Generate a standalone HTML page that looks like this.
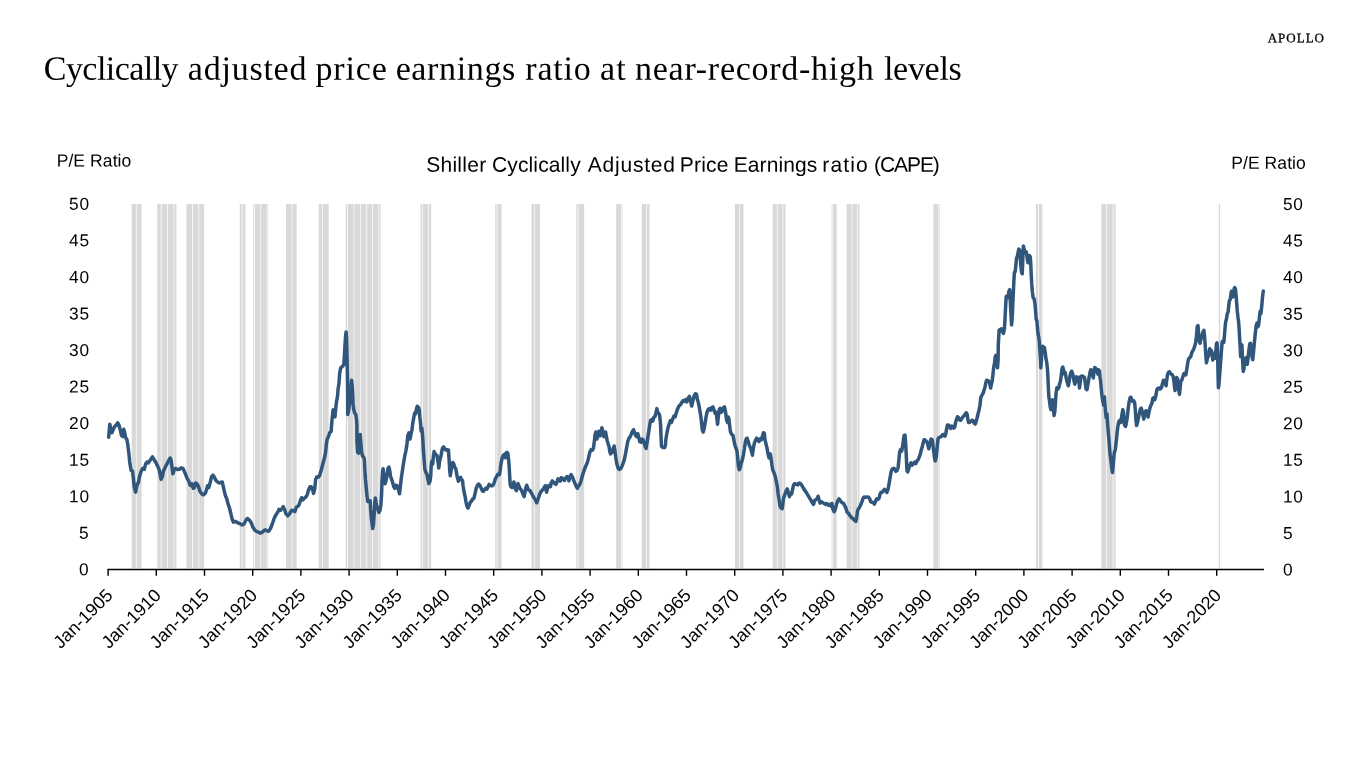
<!DOCTYPE html>
<html lang="en">
<head>
<meta charset="utf-8">
<title>Cyclically adjusted price earnings ratio at near-record-high levels</title>
<style>
html,body{margin:0;padding:0;background:#fff;}
body{width:1366px;height:768px;overflow:hidden;position:relative;font-family:"Liberation Sans",sans-serif;color:#000;}
svg{position:absolute;left:0;top:0;}
svg text{font-family:"Liberation Sans",sans-serif;fill:#000;}
.yl text{font-size:17.3px;}
text.ttl{font-family:"Liberation Serif",serif;font-size:34px;}
text.ct{font-size:21px;}
text.pe{font-size:17.5px;}
text.logo{font-family:"Liberation Serif",serif;font-size:13px;stroke:#000;stroke-width:0.3px;}
.xl text{font-size:18px;}
</style>
</head>
<body>
<svg width="1366" height="768" viewBox="0 0 1366 768">
<g fill="#d9d9d9">
<rect x="131.62" y="204" width="4.27" height="364.3"/>
<rect x="136.60" y="204" width="4.98" height="364.3"/>
<rect x="157.23" y="204" width="3.56" height="364.3"/>
<rect x="161.50" y="204" width="5.69" height="364.3"/>
<rect x="167.90" y="204" width="5.69" height="364.3"/>
<rect x="174.31" y="204" width="2.13" height="364.3"/>
<rect x="186.40" y="204" width="5.69" height="364.3"/>
<rect x="192.81" y="204" width="5.69" height="364.3"/>
<rect x="199.21" y="204" width="4.98" height="364.3"/>
<rect x="239.76" y="204" width="2.13" height="364.3"/>
<rect x="242.61" y="204" width="2.85" height="364.3"/>
<rect x="253.28" y="204" width="0.71" height="364.3"/>
<rect x="254.70" y="204" width="5.69" height="364.3"/>
<rect x="261.11" y="204" width="5.69" height="364.3"/>
<rect x="267.51" y="204" width="0.71" height="364.3"/>
<rect x="286.01" y="204" width="5.69" height="364.3"/>
<rect x="292.41" y="204" width="4.27" height="364.3"/>
<rect x="318.73" y="204" width="3.56" height="364.3"/>
<rect x="323.00" y="204" width="5.69" height="364.3"/>
<rect x="345.77" y="204" width="1.42" height="364.3"/>
<rect x="347.90" y="204" width="5.69" height="364.3"/>
<rect x="354.31" y="204" width="5.69" height="364.3"/>
<rect x="360.71" y="204" width="5.69" height="364.3"/>
<rect x="367.11" y="204" width="4.98" height="364.3"/>
<rect x="372.80" y="204" width="5.69" height="364.3"/>
<rect x="379.21" y="204" width="1.42" height="364.3"/>
<rect x="420.47" y="204" width="1.42" height="364.3"/>
<rect x="422.61" y="204" width="5.69" height="364.3"/>
<rect x="429.01" y="204" width="2.13" height="364.3"/>
<rect x="495.17" y="204" width="1.42" height="364.3"/>
<rect x="497.31" y="204" width="4.27" height="364.3"/>
<rect x="531.46" y="204" width="2.85" height="364.3"/>
<rect x="535.02" y="204" width="4.98" height="364.3"/>
<rect x="576.28" y="204" width="1.42" height="364.3"/>
<rect x="578.42" y="204" width="5.69" height="364.3"/>
<rect x="616.12" y="204" width="4.98" height="364.3"/>
<rect x="621.81" y="204" width="0.71" height="364.3"/>
<rect x="641.74" y="204" width="4.27" height="364.3"/>
<rect x="646.72" y="204" width="2.85" height="364.3"/>
<rect x="734.94" y="204" width="4.27" height="364.3"/>
<rect x="739.92" y="204" width="3.56" height="364.3"/>
<rect x="772.64" y="204" width="4.27" height="364.3"/>
<rect x="777.62" y="204" width="4.98" height="364.3"/>
<rect x="783.32" y="204" width="2.13" height="364.3"/>
<rect x="831.69" y="204" width="0.71" height="364.3"/>
<rect x="833.12" y="204" width="3.56" height="364.3"/>
<rect x="846.64" y="204" width="4.98" height="364.3"/>
<rect x="852.33" y="204" width="4.98" height="364.3"/>
<rect x="858.02" y="204" width="1.42" height="364.3"/>
<rect x="933.43" y="204" width="4.98" height="364.3"/>
<rect x="939.12" y="204" width="0.71" height="364.3"/>
<rect x="1035.88" y="204" width="2.13" height="364.3"/>
<rect x="1038.73" y="204" width="3.56" height="364.3"/>
<rect x="1101.34" y="204" width="4.98" height="364.3"/>
<rect x="1107.03" y="204" width="5.69" height="364.3"/>
<rect x="1113.43" y="204" width="2.13" height="364.3"/>
<rect x="1218.73" y="204" width="1.42" height="364.3"/>
</g>
<text class="ttl" y="79.80" rotate="0.05"><tspan x="43.74" style="letter-spacing:-0.55px">Cyclically</tspan> <tspan x="187.87" style="letter-spacing:0.75px">adjusted</tspan> <tspan x="315.45" style="letter-spacing:0.86px">price</tspan> <tspan x="395.63" style="letter-spacing:0.64px">earnings</tspan> <tspan x="525.27" style="letter-spacing:0.78px">ratio</tspan> <tspan x="599.91" style="letter-spacing:1.12px">at</tspan> <tspan x="635.05" style="letter-spacing:0.72px">near-record-high</tspan> <tspan x="883.97" style="letter-spacing:-0.31px">levels</tspan></text>
<text class="ct" y="171.70" rotate="0.05"><tspan x="426.19" style="letter-spacing:0.26px">Shiller</tspan> <tspan x="492.06" style="letter-spacing:0.11px">Cyclically</tspan> <tspan x="587.76" style="letter-spacing:0.78px">Adjusted</tspan> <tspan x="679.84" style="letter-spacing:0.18px">Price</tspan> <tspan x="733.66" style="letter-spacing:0.11px">Earnings</tspan> <tspan x="822.34" style="letter-spacing:1.11px">ratio</tspan> <tspan x="874.09" style="letter-spacing:-1.09px">(CAPE)</tspan></text>
<text class="pe" y="166.60" rotate="0.05"><tspan x="56.63" style="letter-spacing:0.09px">P/E Ratio</tspan></text>
<text class="pe" y="168.80" rotate="0.05"><tspan x="1231.24" style="letter-spacing:0.07px">P/E Ratio</tspan></text>
<text class="logo" y="42.30" rotate="0.05"><tspan x="1267.63" style="letter-spacing:1.01px">APOLLO</tspan></text>
<g class="yl">
<text x="88.70" y="575.30" rotate="0.05" text-anchor="end" style="letter-spacing:0.0px">0</text>
<text x="1283.1" y="575.50" rotate="0.05" text-anchor="start" style="letter-spacing:0.5px">0</text>
<text x="88.70" y="538.75" rotate="0.05" text-anchor="end" style="letter-spacing:0.0px">5</text>
<text x="1283.1" y="538.95" rotate="0.05" text-anchor="start" style="letter-spacing:0.5px">5</text>
<text x="90.00" y="502.20" rotate="0.05" text-anchor="end" style="letter-spacing:0.9px">10</text>
<text x="1283.1" y="502.40" rotate="0.05" text-anchor="start" style="letter-spacing:0.5px">10</text>
<text x="90.00" y="465.65" rotate="0.05" text-anchor="end" style="letter-spacing:0.9px">15</text>
<text x="1283.1" y="465.85" rotate="0.05" text-anchor="start" style="letter-spacing:0.5px">15</text>
<text x="90.00" y="429.10" rotate="0.05" text-anchor="end" style="letter-spacing:0.9px">20</text>
<text x="1283.1" y="429.30" rotate="0.05" text-anchor="start" style="letter-spacing:0.5px">20</text>
<text x="90.00" y="392.55" rotate="0.05" text-anchor="end" style="letter-spacing:0.9px">25</text>
<text x="1283.1" y="392.75" rotate="0.05" text-anchor="start" style="letter-spacing:0.5px">25</text>
<text x="90.00" y="356.00" rotate="0.05" text-anchor="end" style="letter-spacing:0.9px">30</text>
<text x="1283.1" y="356.20" rotate="0.05" text-anchor="start" style="letter-spacing:0.5px">30</text>
<text x="90.00" y="319.45" rotate="0.05" text-anchor="end" style="letter-spacing:0.9px">35</text>
<text x="1283.1" y="319.65" rotate="0.05" text-anchor="start" style="letter-spacing:0.5px">35</text>
<text x="90.00" y="282.90" rotate="0.05" text-anchor="end" style="letter-spacing:0.9px">40</text>
<text x="1283.1" y="283.10" rotate="0.05" text-anchor="start" style="letter-spacing:0.5px">40</text>
<text x="90.00" y="246.35" rotate="0.05" text-anchor="end" style="letter-spacing:0.9px">45</text>
<text x="1283.1" y="246.55" rotate="0.05" text-anchor="start" style="letter-spacing:0.5px">45</text>
<text x="90.00" y="209.80" rotate="0.05" text-anchor="end" style="letter-spacing:0.9px">50</text>
<text x="1283.1" y="210.00" rotate="0.05" text-anchor="start" style="letter-spacing:0.5px">50</text>
</g>
<path d="M108.7 437.2 L109.3 430.0 L109.8 424.2 L110.9 429.2 L111.9 432.8 L113.1 430.1 L114.6 426.4 L116.0 425.5 L117.7 422.8 L118.8 424.6 L120.1 429.2 L121.5 435.6 L122.8 436.5 L123.7 429.2 L124.6 431.9 L125.5 437.4 L126.8 439.2 L127.7 443.8 L128.8 452.9 L129.7 462.0 L131.0 470.2 L132.5 471.1 L133.4 478.4 L134.3 487.5 L135.6 492.1 L136.5 487.5 L137.4 483.9 L138.3 483.0 L139.7 475.7 L141.6 470.2 L142.8 468.4 L144.3 469.3 L145.6 463.8 L147.0 462.0 L148.3 462.9 L150.1 460.2 L152.5 456.9 L153.8 459.3 L155.6 462.0 L157.4 465.6 L159.3 470.2 L160.2 474.7 L161.1 479.3 L162.4 476.6 L163.4 471.1 L164.7 468.4 L166.0 465.6 L167.5 462.9 L168.9 460.2 L170.2 458.0 L171.1 460.2 L172.0 467.5 L172.9 473.8 L174.4 469.3 L175.7 468.4 L177.5 469.6 L179.3 469.3 L181.1 467.8 L183.0 468.4 L184.2 471.1 L185.7 474.7 L187.1 478.4 L188.8 481.1 L189.9 484.8 L191.2 485.7 L192.1 483.9 L193.3 488.4 L194.4 487.5 L195.7 483.0 L197.0 483.9 L198.5 486.6 L199.9 491.2 L201.7 493.9 L203.6 494.8 L205.4 493.0 L206.7 489.3 L207.6 485.7 L208.8 487.5 L210.3 482.0 L211.6 476.6 L213.0 475.1 L214.5 477.5 L215.8 480.2 L217.6 482.0 L219.4 483.0 L220.7 482.4 L222.2 482.0 L223.1 485.7 L224.3 491.2 L225.4 495.7 L226.7 498.5 L228.0 503.9 L229.4 507.6 L230.9 513.9 L232.2 519.4 L233.5 522.2 L234.9 521.2 L236.7 522.2 L238.6 523.1 L240.4 524.0 L242.2 524.9 L244.0 524.0 L245.9 520.3 L247.3 518.5 L248.6 519.4 L250.4 521.2 L251.7 524.0 L253.1 527.6 L255.0 530.4 L256.8 531.6 L258.6 532.2 L260.4 533.1 L262.3 532.2 L264.1 530.4 L265.5 529.8 L266.8 530.9 L268.6 531.3 L270.5 528.5 L272.3 524.0 L274.1 518.5 L275.9 514.9 L277.8 512.1 L279.0 509.4 L280.5 510.3 L282.0 508.5 L283.2 506.7 L284.5 509.4 L286.0 513.9 L287.8 515.8 L289.6 513.9 L290.2 512.5 L291.7 510.2 L293.3 510.6 L294.8 511.7 L296.4 507.0 L298.0 506.2 L299.1 504.7 L300.3 500.8 L301.6 497.7 L302.7 500.0 L304.2 498.4 L305.8 497.2 L307.3 494.5 L308.6 489.8 L310.0 486.7 L311.2 486.7 L312.5 489.8 L313.6 493.4 L314.7 489.1 L315.6 479.7 L316.7 476.9 L318.3 477.3 L319.8 475.0 L321.4 469.5 L323.0 463.3 L324.5 457.8 L325.6 452.3 L326.4 443.8 L327.2 439.1 L328.4 436.7 L329.7 432.8 L331.2 431.2 L331.6 424.7 L332.3 416.9 L333.1 409.8 L334.2 413.8 L335.0 416.9 L335.8 407.5 L336.6 401.2 L337.5 396.6 L338.1 388.8 L338.9 384.1 L339.7 373.1 L340.6 368.4 L341.7 366.9 L342.8 366.1 L343.8 364.5 L344.4 355.9 L345.0 345.0 L345.6 335.9 L346.1 332.0 L346.6 338.8 L346.9 351.2 L347.2 365.3 L347.5 379.4 L347.7 395.0 L347.7 407.5 L347.7 414.5 L348.3 412.2 L349.1 407.5 L350.0 398.1 L350.8 388.8 L351.6 380.2 L352.2 385.6 L352.7 395.0 L353.1 404.4 L353.8 409.8 L354.7 413.0 L355.8 414.5 L356.6 420.0 L356.9 426.2 L356.9 432.8 L357.0 442.2 L357.7 452.3 L358.6 453.1 L359.4 443.8 L360.2 434.4 L360.8 442.2 L361.6 451.6 L362.5 456.2 L363.6 457.0 L364.4 459.4 L364.8 468.8 L365.5 479.7 L366.2 487.5 L367.0 495.3 L367.8 501.6 L369.1 501.6 L370.2 500.8 L370.6 509.4 L371.4 518.8 L372.2 525.0 L372.7 528.4 L373.4 525.0 L374.1 515.6 L374.7 503.1 L375.3 498.1 L376.2 503.1 L377.2 507.8 L378.1 510.2 L378.9 512.5 L380.0 510.2 L380.9 504.7 L381.6 493.8 L382.0 481.2 L382.7 471.1 L383.1 468.8 L383.8 475.0 L384.4 481.2 L385.2 483.6 L386.2 479.7 L387.2 473.4 L388.1 468.0 L388.9 467.2 L389.7 470.3 L390.5 476.6 L391.2 478.1 L392.5 482.0 L393.8 486.7 L394.8 488.3 L395.9 485.2 L397.2 485.9 L398.3 489.1 L399.5 493.8 L400.3 487.5 L401.1 479.7 L402.2 471.9 L403.4 464.1 L404.7 456.2 L405.9 450.8 L407.0 443.8 L407.8 435.9 L408.9 432.8 L410.0 439.1 L410.9 434.4 L412.0 429.7 L412.8 423.1 L413.9 416.9 L414.7 413.0 L415.6 413.8 L416.4 409.1 L417.2 406.2 L418.3 407.2 L419.1 409.1 L419.8 416.9 L420.6 423.9 L421.1 431.2 L421.9 428.1 L422.5 434.4 L423.0 442.2 L423.4 450.0 L424.1 459.4 L424.8 468.8 L425.6 471.9 L426.9 474.2 L428.0 479.7 L428.9 483.6 L430.0 481.2 L430.8 475.0 L431.2 465.6 L431.9 460.9 L432.7 464.1 L433.4 456.2 L434.1 451.6 L434.7 453.1 L435.8 454.7 L437.0 455.5 L438.1 462.5 L438.8 468.0 L439.4 462.5 L440.2 458.6 L440.9 456.2 L441.7 451.6 L442.5 448.1 L443.6 446.9 L444.8 448.8 L445.9 450.0 L447.2 449.7 L448.4 450.0 L449.1 459.4 L449.7 470.3 L450.3 475.8 L451.1 470.3 L451.9 465.6 L452.8 462.5 L453.8 464.1 L454.7 467.2 L455.8 468.8 L456.6 473.4 L457.3 477.3 L458.4 481.2 L459.4 478.1 L460.5 477.3 L461.6 479.7 L462.5 480.5 L463.1 485.9 L464.1 492.2 L465.2 496.9 L465.9 501.6 L466.9 506.2 L468.0 508.1 L469.1 505.5 L470.3 502.3 L471.9 500.8 L472.3 499.2 L473.9 498.4 L475.0 493.8 L476.2 488.3 L477.5 485.2 L478.6 484.1 L479.7 485.2 L480.9 487.5 L482.2 490.6 L483.3 491.4 L484.4 489.8 L485.6 488.3 L486.9 489.1 L488.0 486.7 L489.1 484.4 L490.3 485.6 L491.6 485.9 L493.0 485.2 L494.2 482.8 L495.3 478.9 L496.6 476.6 L497.8 474.2 L499.4 474.7 L500.2 470.3 L500.9 464.1 L502.0 458.6 L503.1 455.5 L504.4 454.4 L505.3 457.8 L505.9 453.1 L507.0 452.3 L508.0 453.9 L508.6 459.4 L509.2 467.2 L509.7 476.6 L510.2 484.4 L510.9 486.7 L512.2 487.5 L513.1 484.4 L513.9 482.0 L514.7 485.2 L515.6 489.1 L516.4 490.6 L517.2 487.5 L518.0 483.6 L518.9 485.9 L520.0 488.3 L521.2 489.8 L522.3 492.2 L523.1 494.5 L524.1 496.6 L525.0 492.2 L525.9 487.5 L526.7 485.2 L527.5 487.5 L528.4 489.8 L529.7 490.3 L530.9 492.2 L532.2 494.5 L533.4 496.9 L534.7 498.8 L535.6 500.0 L536.7 502.8 L537.7 500.0 L538.8 496.9 L539.8 493.8 L541.1 491.4 L542.2 490.3 L543.4 489.1 L544.5 486.7 L545.5 485.6 L546.6 492.2 L547.3 489.1 L548.4 485.9 L549.4 485.2 L550.5 486.7 L551.2 482.8 L552.3 480.9 L553.6 482.5 L554.7 483.6 L555.9 484.4 L557.0 482.0 L558.0 478.9 L559.1 479.7 L560.2 481.2 L561.2 477.8 L562.2 478.1 L563.4 479.4 L564.5 480.5 L565.6 478.1 L566.9 476.6 L568.1 477.3 L568.9 480.9 L570.0 476.6 L571.1 474.7 L572.3 476.6 L573.4 479.7 L574.7 482.8 L575.9 485.6 L577.3 488.3 L578.6 485.9 L579.8 484.4 L580.9 481.2 L582.0 477.3 L583.1 473.4 L584.4 469.5 L585.6 466.4 L586.9 463.8 L588.0 460.2 L589.1 455.5 L590.0 451.6 L591.1 449.7 L592.2 450.3 L593.4 448.4 L594.4 440.6 L595.0 435.2 L595.9 432.0 L596.9 439.1 L597.8 433.6 L598.9 431.2 L600.0 435.9 L600.9 432.8 L601.9 427.8 L602.8 431.2 L603.8 436.7 L604.7 432.8 L605.6 432.0 L606.4 436.7 L607.2 440.6 L608.1 443.8 L609.1 446.9 L609.8 451.6 L610.6 453.9 L611.7 450.0 L612.5 452.3 L613.4 447.7 L614.2 446.1 L615.0 451.6 L615.9 458.6 L616.9 464.1 L618.0 468.0 L619.2 469.5 L620.5 468.8 L621.9 466.4 L623.1 463.3 L624.4 459.4 L625.5 453.9 L626.6 447.7 L627.8 441.4 L628.9 438.3 L630.2 436.7 L631.2 434.4 L632.5 431.2 L633.6 429.7 L634.5 432.8 L635.6 435.2 L636.7 436.7 L637.8 433.6 L638.8 437.5 L639.8 441.9 L641.1 442.2 L642.2 439.1 L643.1 439.8 L644.2 443.0 L645.3 446.9 L646.1 448.4 L646.9 443.8 L647.8 437.5 L648.8 431.2 L649.7 425.0 L650.6 420.3 L651.7 419.5 L652.8 421.1 L653.9 417.2 L655.0 416.4 L655.9 413.3 L656.9 408.6 L657.8 412.5 L658.8 413.3 L659.7 415.6 L660.6 425.0 L661.0 436.0 L661.5 446.3 L662.8 447.6 L664.6 447.6 L665.5 445.0 L665.8 439.7 L666.9 433.3 L668.0 427.8 L669.1 424.2 L670.4 420.6 L671.5 422.4 L672.8 418.7 L674.0 416.0 L675.1 416.9 L676.4 412.3 L677.7 408.7 L679.0 406.0 L680.4 404.7 L681.9 402.3 L683.2 400.5 L684.4 401.4 L685.7 399.6 L687.0 401.8 L688.3 397.8 L689.5 396.3 L690.6 401.4 L691.7 406.0 L692.8 401.4 L694.1 395.9 L695.4 393.8 L696.5 394.1 L697.4 399.6 L698.3 402.3 L699.2 406.9 L700.1 412.3 L700.8 416.0 L701.6 423.3 L702.3 429.7 L703.2 432.0 L704.3 427.8 L705.2 422.4 L706.1 416.9 L707.0 412.3 L708.1 409.6 L709.2 408.7 L710.5 410.2 L711.6 407.8 L712.9 406.9 L714.1 410.5 L715.2 413.3 L716.2 412.3 L716.9 418.7 L717.6 424.2 L718.3 416.9 L719.3 409.6 L720.2 408.3 L721.3 412.3 L722.4 410.5 L723.4 407.8 L724.5 406.9 L725.6 412.3 L726.5 419.6 L727.5 422.4 L728.2 416.9 L728.9 418.7 L729.6 425.1 L730.4 431.5 L731.5 434.2 L732.9 435.1 L733.8 439.7 L734.7 444.3 L735.8 447.9 L736.9 450.6 L737.7 457.9 L738.4 466.1 L739.3 469.8 L740.2 468.0 L741.1 463.4 L742.4 459.7 L743.5 454.3 L744.4 448.8 L745.3 442.4 L746.2 438.8 L747.1 438.2 L748.2 441.5 L749.3 445.2 L750.6 447.9 L751.5 451.5 L752.4 455.2 L753.3 448.8 L754.3 443.3 L755.4 440.6 L756.6 438.2 L757.9 439.7 L759.0 441.5 L760.3 438.8 L761.5 439.7 L762.5 436.0 L763.4 432.8 L764.3 433.3 L765.0 439.7 L766.1 444.3 L767.0 447.9 L767.9 453.4 L769.0 457.9 L770.3 453.9 L771.0 457.9 L771.8 464.3 L772.7 469.8 L773.9 472.5 L775.2 476.2 L776.3 481.6 L777.4 487.1 L778.1 493.5 L779.1 499.9 L780.0 506.2 L781.2 508.1 L782.2 508.6 L782.9 503.5 L783.6 498.0 L784.9 494.4 L786.2 490.7 L787.3 488.9 L788.4 492.6 L789.4 496.6 L790.5 493.5 L791.6 494.0 L792.7 488.9 L793.6 484.9 L794.9 483.5 L796.4 484.4 L797.8 484.9 L799.1 483.1 L800.4 483.5 L801.8 485.3 L803.3 488.0 L804.9 490.7 L806.4 492.6 L808.0 495.3 L809.5 498.0 L811.0 500.2 L812.2 502.6 L813.5 504.4 L814.6 500.8 L815.9 499.5 L817.2 498.9 L818.1 496.2 L819.0 499.5 L820.1 503.1 L821.3 501.7 L822.6 502.6 L824.1 503.5 L825.5 504.4 L826.8 503.5 L828.1 505.3 L829.6 504.4 L831.0 506.2 L831.9 503.5 L832.8 509.0 L834.1 511.7 L835.4 509.0 L836.5 504.4 L837.8 500.8 L839.0 498.9 L840.5 500.8 L842.0 502.6 L843.6 503.5 L845.9 508.1 L847.0 512.0 L848.6 513.6 L850.2 515.9 L851.7 517.8 L853.3 518.8 L854.8 520.6 L855.9 521.4 L856.7 517.5 L857.5 511.2 L858.4 508.9 L859.5 507.3 L860.6 505.0 L861.9 501.9 L863.1 498.4 L864.2 496.9 L865.8 497.2 L867.3 496.9 L868.6 497.2 L869.7 498.8 L870.8 501.9 L872.0 502.2 L873.3 502.7 L874.4 504.2 L875.6 501.1 L876.7 498.8 L878.0 499.5 L879.1 498.0 L880.0 494.1 L880.9 492.5 L882.2 492.2 L883.4 490.6 L884.5 489.4 L885.6 490.6 L886.9 492.5 L888.0 489.4 L888.9 484.7 L889.7 480.0 L890.5 475.3 L891.2 471.4 L892.3 469.1 L893.4 468.3 L894.7 468.8 L895.8 471.4 L897.0 470.6 L898.1 467.5 L898.9 459.7 L899.7 451.9 L900.6 449.5 L901.7 451.1 L902.5 447.2 L903.3 440.9 L904.1 435.5 L905.0 435.0 L905.6 442.5 L906.1 451.9 L906.6 462.8 L907.0 470.6 L907.7 471.9 L908.8 468.3 L909.8 465.2 L911.1 462.8 L912.2 465.2 L913.4 463.6 L914.7 462.0 L915.8 463.6 L916.9 460.9 L918.1 459.7 L919.2 457.3 L920.2 454.2 L921.2 450.3 L922.3 446.4 L923.3 442.5 L924.1 439.7 L925.2 440.2 L926.2 441.2 L927.2 442.2 L928.0 445.6 L928.8 448.8 L929.5 445.9 L930.3 441.7 L931.1 439.1 L932.2 439.7 L933.0 445.6 L933.8 451.9 L934.5 458.1 L935.3 460.9 L936.2 457.3 L936.9 450.3 L937.5 443.3 L938.1 438.6 L939.2 437.5 L940.3 437.0 L941.6 436.2 L942.8 434.4 L943.9 434.7 L945.0 436.2 L945.9 433.1 L946.7 428.4 L947.5 425.0 L948.6 425.3 L949.7 426.9 L950.6 428.4 L951.7 426.1 L952.8 426.6 L953.8 428.1 L954.8 426.9 L955.6 422.2 L956.6 419.1 L957.5 416.7 L958.4 417.5 L959.5 419.8 L960.6 420.3 L961.9 418.3 L963.1 416.7 L964.2 415.6 L965.3 414.1 L966.2 412.8 L967.2 414.4 L967.8 419.1 L968.6 422.5 L969.7 422.2 L970.9 421.4 L972.0 420.3 L973.1 420.6 L974.1 423.0 L975.2 424.1 L976.2 421.4 L977.2 417.5 L978.1 413.6 L979.1 409.7 L980.0 405.0 L980.8 397.5 L981.9 395.2 L983.0 393.6 L983.9 390.5 L985.0 387.3 L985.8 382.7 L986.6 380.3 L987.8 380.6 L988.9 381.1 L989.7 383.4 L990.6 388.1 L991.6 383.4 L992.3 380.3 L993.0 374.1 L993.6 367.8 L994.4 363.9 L995.2 356.9 L995.9 355.3 L996.7 361.6 L997.5 367.8 L998.1 360.0 L998.3 344.4 L999.1 330.3 L1000.3 329.5 L1001.4 328.8 L1002.5 331.9 L1003.4 333.4 L1004.4 328.8 L1005.0 319.4 L1005.6 306.9 L1006.2 296.7 L1007.2 295.9 L1008.1 297.5 L1008.9 291.2 L1009.7 289.7 L1010.3 300.6 L1010.9 313.1 L1011.6 324.8 L1012.3 316.2 L1012.8 303.8 L1013.4 291.2 L1013.9 280.3 L1014.4 272.5 L1015.2 271.7 L1015.9 264.7 L1016.6 257.7 L1017.3 256.9 L1018.1 252.2 L1018.9 249.1 L1019.7 250.6 L1020.3 258.4 L1020.9 266.2 L1021.6 272.5 L1022.2 273.8 L1022.7 263.1 L1023.0 252.2 L1023.4 245.9 L1024.1 249.1 L1024.8 253.0 L1025.6 251.4 L1026.4 252.2 L1027.2 258.4 L1028.0 262.8 L1028.8 256.9 L1029.5 255.6 L1030.3 256.9 L1030.8 264.7 L1031.2 274.1 L1031.7 283.4 L1032.3 291.2 L1033.1 297.5 L1034.2 299.1 L1035.0 303.8 L1035.6 311.6 L1036.2 319.4 L1036.9 320.6 L1037.5 328.8 L1038.1 334.2 L1038.9 338.1 L1039.4 342.8 L1040.0 352.2 L1040.5 360.0 L1040.8 367.8 L1041.4 360.0 L1042.0 350.6 L1042.8 346.2 L1043.8 350.6 L1044.4 347.5 L1045.2 352.2 L1045.9 358.4 L1046.7 362.3 L1047.5 369.4 L1048.0 378.8 L1048.4 388.1 L1048.9 397.5 L1049.5 400.6 L1050.2 406.9 L1050.9 409.7 L1051.7 400.6 L1052.5 399.8 L1053.3 408.4 L1054.1 415.5 L1054.8 411.6 L1055.5 402.2 L1056.1 392.8 L1056.9 387.8 L1058.0 388.9 L1058.9 387.3 L1059.7 383.4 L1060.5 381.1 L1061.2 375.6 L1062.0 368.6 L1062.8 367.0 L1063.6 370.2 L1064.4 374.1 L1065.2 372.5 L1065.9 376.4 L1066.7 380.3 L1067.5 383.4 L1068.3 385.8 L1069.1 381.9 L1069.8 377.2 L1070.6 373.3 L1071.6 371.2 L1072.5 373.3 L1073.3 376.4 L1074.1 381.1 L1074.8 384.2 L1075.6 380.3 L1076.4 376.9 L1077.2 378.8 L1078.0 381.9 L1078.8 377.2 L1079.5 388.1 L1080.3 381.9 L1081.1 376.4 L1082.2 375.9 L1083.4 376.9 L1084.5 377.2 L1085.3 383.4 L1086.1 388.9 L1087.0 389.7 L1087.8 385.0 L1088.6 380.3 L1089.4 375.6 L1090.2 371.7 L1090.9 369.7 L1091.7 370.9 L1092.5 374.1 L1093.3 378.0 L1094.1 370.9 L1094.8 367.5 L1095.9 368.6 L1096.9 369.7 L1097.8 374.1 L1098.4 369.7 L1099.4 370.9 L1100.0 377.2 L1100.6 381.1 L1101.2 388.1 L1101.9 395.2 L1102.7 400.6 L1103.8 405.3 L1104.4 396.7 L1105.0 405.3 L1105.6 413.1 L1106.2 417.8 L1107.0 413.9 L1107.5 422.5 L1108.1 430.3 L1108.8 438.1 L1109.4 445.9 L1110.0 453.8 L1110.6 458.4 L1111.2 463.1 L1111.9 469.4 L1112.5 472.5 L1113.1 466.2 L1113.8 456.9 L1114.4 452.2 L1115.3 449.8 L1115.9 444.4 L1116.6 438.1 L1117.2 431.9 L1118.0 425.6 L1118.8 421.7 L1120.0 420.2 L1120.9 422.5 L1121.9 414.7 L1122.8 409.7 L1123.4 411.6 L1123.9 419.4 L1124.5 424.8 L1125.5 426.4 L1126.2 424.1 L1126.9 419.4 L1127.7 413.1 L1128.4 406.9 L1129.2 401.4 L1130.2 397.5 L1130.9 397.2 L1131.9 400.6 L1132.8 401.4 L1133.8 400.9 L1134.7 403.0 L1135.3 410.0 L1135.9 419.4 L1136.6 425.6 L1137.5 422.5 L1138.4 417.8 L1139.4 413.1 L1140.3 409.2 L1141.2 408.1 L1142.2 411.6 L1143.0 415.5 L1143.8 419.1 L1144.5 414.7 L1145.5 411.2 L1146.4 410.8 L1147.3 413.9 L1148.1 417.0 L1149.1 411.6 L1150.0 407.7 L1150.9 405.3 L1151.9 403.4 L1152.8 398.3 L1153.8 397.5 L1154.7 399.8 L1155.5 397.5 L1156.2 393.6 L1156.9 389.7 L1157.8 388.4 L1158.8 388.9 L1159.7 387.8 L1160.6 388.9 L1161.6 387.3 L1162.5 383.4 L1163.4 380.3 L1164.4 380.6 L1165.3 382.7 L1166.1 385.8 L1166.7 380.3 L1167.5 374.8 L1168.4 372.2 L1169.4 371.7 L1170.3 373.3 L1171.2 374.1 L1172.2 374.8 L1173.1 376.4 L1173.8 380.3 L1174.4 385.8 L1175.0 390.5 L1175.8 383.4 L1176.6 377.5 L1177.5 378.4 L1178.1 386.6 L1178.9 391.2 L1179.5 394.4 L1180.2 387.3 L1180.8 381.1 L1181.7 380.3 L1182.8 377.2 L1183.8 373.8 L1184.7 373.3 L1185.9 374.8 L1186.7 369.4 L1187.5 364.7 L1188.3 359.7 L1189.4 357.8 L1190.6 356.9 L1191.6 353.4 L1192.5 351.1 L1193.4 350.0 L1194.4 347.2 L1195.3 344.1 L1196.1 339.4 L1196.7 333.1 L1197.3 326.1 L1198.0 325.6 L1198.6 333.1 L1199.2 340.9 L1200.0 343.3 L1200.8 339.4 L1201.6 337.8 L1202.3 334.7 L1203.1 331.6 L1203.9 330.3 L1204.5 336.2 L1205.2 345.6 L1205.8 355.0 L1206.4 362.8 L1207.2 359.7 L1207.8 353.4 L1208.4 356.6 L1209.1 351.9 L1209.7 348.8 L1210.5 350.0 L1211.4 350.6 L1212.2 355.8 L1212.8 360.0 L1213.6 353.4 L1214.4 356.6 L1215.2 358.1 L1215.8 351.9 L1216.4 344.1 L1217.0 342.8 L1217.5 350.3 L1217.8 362.8 L1218.1 376.9 L1218.4 387.8 L1218.9 384.7 L1219.5 376.9 L1220.2 367.5 L1220.9 358.1 L1221.6 348.8 L1222.2 341.7 L1223.0 340.9 L1223.8 342.5 L1224.4 336.2 L1225.0 328.4 L1225.6 322.2 L1226.6 318.3 L1227.3 313.6 L1228.1 312.0 L1228.8 305.0 L1229.4 300.6 L1230.2 299.5 L1230.8 295.6 L1231.4 291.2 L1232.2 292.5 L1232.8 296.9 L1233.6 293.3 L1234.2 288.6 L1234.8 287.5 L1235.5 289.4 L1236.1 295.6 L1236.7 303.4 L1237.3 311.2 L1238.0 317.5 L1238.6 321.9 L1239.2 330.0 L1239.7 339.4 L1240.2 347.2 L1240.6 356.6 L1241.2 345.6 L1241.9 344.8 L1242.3 355.0 L1242.8 364.4 L1243.3 371.4 L1243.9 369.1 L1244.7 361.2 L1245.6 358.1 L1246.6 357.3 L1247.3 364.4 L1248.1 358.1 L1248.9 350.3 L1249.7 344.1 L1250.5 343.3 L1251.2 348.8 L1252.0 356.6 L1252.8 359.7 L1253.4 353.4 L1254.1 345.6 L1254.7 339.4 L1255.5 331.6 L1256.2 325.3 L1257.0 323.0 L1257.8 326.9 L1258.6 325.3 L1259.4 317.5 L1260.2 311.2 L1260.9 313.6 L1261.7 306.6 L1262.5 297.2 L1263.3 290.9" fill="none" stroke="#31567b" stroke-width="3.5" stroke-linejoin="round" stroke-linecap="round"/>
<g stroke="#000" stroke-width="1.4" fill="none">
<line x1="107.5" y1="569.5" x2="1264" y2="569.5"/>
<line x1="108.1" y1="569.5" x2="108.1" y2="575.8"/>
<line x1="156.3" y1="569.5" x2="156.3" y2="575.8"/>
<line x1="204.5" y1="569.5" x2="204.5" y2="575.8"/>
<line x1="252.7" y1="569.5" x2="252.7" y2="575.8"/>
<line x1="300.9" y1="569.5" x2="300.9" y2="575.8"/>
<line x1="349.1" y1="569.5" x2="349.1" y2="575.8"/>
<line x1="397.3" y1="569.5" x2="397.3" y2="575.8"/>
<line x1="445.5" y1="569.5" x2="445.5" y2="575.8"/>
<line x1="493.7" y1="569.5" x2="493.7" y2="575.8"/>
<line x1="541.9" y1="569.5" x2="541.9" y2="575.8"/>
<line x1="590.1" y1="569.5" x2="590.1" y2="575.8"/>
<line x1="638.3" y1="569.5" x2="638.3" y2="575.8"/>
<line x1="686.5" y1="569.5" x2="686.5" y2="575.8"/>
<line x1="734.7" y1="569.5" x2="734.7" y2="575.8"/>
<line x1="782.9" y1="569.5" x2="782.9" y2="575.8"/>
<line x1="831.1" y1="569.5" x2="831.1" y2="575.8"/>
<line x1="879.3" y1="569.5" x2="879.3" y2="575.8"/>
<line x1="927.5" y1="569.5" x2="927.5" y2="575.8"/>
<line x1="975.7" y1="569.5" x2="975.7" y2="575.8"/>
<line x1="1023.9" y1="569.5" x2="1023.9" y2="575.8"/>
<line x1="1072.1" y1="569.5" x2="1072.1" y2="575.8"/>
<line x1="1120.3" y1="569.5" x2="1120.3" y2="575.8"/>
<line x1="1168.5" y1="569.5" x2="1168.5" y2="575.8"/>
<line x1="1216.7" y1="569.5" x2="1216.7" y2="575.8"/>
</g>
<g class="xl">
<text transform="translate(113.8,596.3) rotate(-45)" text-anchor="end">Jan-1905</text>
<text transform="translate(162.0,596.3) rotate(-45)" text-anchor="end">Jan-1910</text>
<text transform="translate(210.2,596.3) rotate(-45)" text-anchor="end">Jan-1915</text>
<text transform="translate(258.4,596.3) rotate(-45)" text-anchor="end">Jan-1920</text>
<text transform="translate(306.6,596.3) rotate(-45)" text-anchor="end">Jan-1925</text>
<text transform="translate(354.8,596.3) rotate(-45)" text-anchor="end">Jan-1930</text>
<text transform="translate(403.0,596.3) rotate(-45)" text-anchor="end">Jan-1935</text>
<text transform="translate(451.2,596.3) rotate(-45)" text-anchor="end">Jan-1940</text>
<text transform="translate(499.4,596.3) rotate(-45)" text-anchor="end">Jan-1945</text>
<text transform="translate(547.6,596.3) rotate(-45)" text-anchor="end">Jan-1950</text>
<text transform="translate(595.8,596.3) rotate(-45)" text-anchor="end">Jan-1955</text>
<text transform="translate(644.0,596.3) rotate(-45)" text-anchor="end">Jan-1960</text>
<text transform="translate(692.2,596.3) rotate(-45)" text-anchor="end">Jan-1965</text>
<text transform="translate(740.4,596.3) rotate(-45)" text-anchor="end">Jan-1970</text>
<text transform="translate(788.6,596.3) rotate(-45)" text-anchor="end">Jan-1975</text>
<text transform="translate(836.8,596.3) rotate(-45)" text-anchor="end">Jan-1980</text>
<text transform="translate(885.0,596.3) rotate(-45)" text-anchor="end">Jan-1985</text>
<text transform="translate(933.2,596.3) rotate(-45)" text-anchor="end">Jan-1990</text>
<text transform="translate(981.4,596.3) rotate(-45)" text-anchor="end">Jan-1995</text>
<text transform="translate(1029.6,596.3) rotate(-45)" text-anchor="end">Jan-2000</text>
<text transform="translate(1077.8,596.3) rotate(-45)" text-anchor="end">Jan-2005</text>
<text transform="translate(1126.0,596.3) rotate(-45)" text-anchor="end">Jan-2010</text>
<text transform="translate(1174.2,596.3) rotate(-45)" text-anchor="end">Jan-2015</text>
<text transform="translate(1222.4,596.3) rotate(-45)" text-anchor="end">Jan-2020</text>
</g>
</svg>
</body>
</html>
